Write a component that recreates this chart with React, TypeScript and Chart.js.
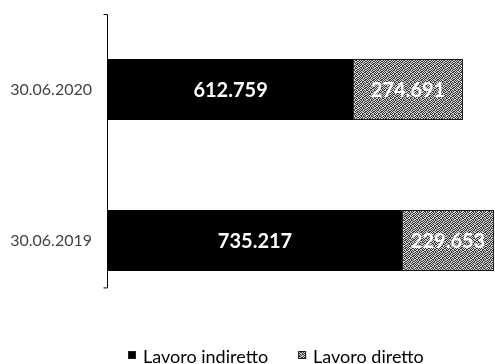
import React, { useEffect, useRef } from "react";
import { Chart, registerables } from "chart.js";

Chart.register(...registerables);

const categories = ["30.06.2020", "30.06.2019"];
const seriesNames = ["Lavoro indiretto", "Lavoro diretto"];
const indirettoValues = [612759, 735217];
const direttoValues = [274691, 229653];

const FONT = "Lato, 'Open Sans', sans-serif";

const fmt = (n: number) => String(n).replace(/\B(?=(\d{3})+(?!\d))/g, ".");

// Speckled grey fill for the "diretto" segment
function makeSpeckle(): CanvasPattern | string {
  const rows = [
    "10110010",
    "01001101",
    "11010100",
    "00101011",
    "10100110",
    "01011001",
    "10010110",
    "01101001",
  ];
  const c = document.createElement("canvas");
  c.width = 8;
  c.height = 8;
  const g = c.getContext("2d");
  if (!g) return "#8a8a8a";
  g.fillStyle = "#3c3c3c";
  g.fillRect(0, 0, 8, 8);
  g.fillStyle = "#d0d0d0";
  rows.forEach((r, y) =>
    r.split("").forEach((b, x) => {
      if (b === "1") g.fillRect(x, y, 1, 1);
    })
  );
  const p = g.createPattern(c, "repeat");
  return p || "#8a8a8a";
}

// Value labels centred inside each bar segment
const valueLabels = {
  id: "valueLabels",
  afterDatasetsDraw(chart: any) {
    const { ctx } = chart;
    ctx.save();
    ctx.font = `bold 20px ${FONT}`;
    ctx.fillStyle = "#ffffff";
    ctx.textAlign = "center";
    ctx.textBaseline = "middle";
    chart.data.datasets.forEach((ds: any, i: number) => {
      const meta = chart.getDatasetMeta(i);
      meta.data.forEach((el: any, j: number) => {
        const { x, base, y } = el.getProps(["x", "base", "y"], true);
        ctx.fillText(fmt(ds.data[j]), (x + base) / 2, y + 1);
      });
    });
    ctx.restore();
  },
};

// Vertical category axis line with end ticks
const AXIS_EXTENT = 0.907;
const axisLine = {
  id: "axisLine",
  afterDraw(chart: any) {
    const { ctx, chartArea } = chart;
    const x = chartArea.left - 0.5;
    const top = chartArea.top;
    const bottom = top + (chartArea.bottom - chartArea.top) * AXIS_EXTENT;
    ctx.save();
    ctx.strokeStyle = "#000";
    ctx.lineWidth = 1;
    ctx.beginPath();
    ctx.moveTo(x - 4, top + 0.5);
    ctx.lineTo(x, top + 0.5);
    ctx.lineTo(x, bottom);
    ctx.lineTo(x - 4, bottom);
    ctx.stroke();
    ctx.restore();
  },
};

// Legend drawn below the plot
const LEGEND_CENTER = 0.558;
const bottomLegend = {
  id: "bottomLegend",
  afterDraw(chart: any) {
    const { ctx } = chart;
    const box = 8;
    const gapBoxText = 7;
    const gapItems = 30;
    ctx.save();
    ctx.font = `18px ${FONT}`;
    ctx.textBaseline = "alphabetic";
    ctx.textAlign = "left";
    const items = chart.data.datasets.map((ds: any) => ({
      label: ds.label,
      fill: ds.backgroundColor,
      w: ctx.measureText(ds.label).width,
    }));
    const total =
      items.reduce((s: number, it: any) => s + box + gapBoxText + it.w, 0) +
      gapItems * (items.length - 1);
    let x = Math.round(chart.width * LEGEND_CENTER - total / 2);
    const baseline = chart.height - 1;
    items.forEach((it: any) => {
      ctx.fillStyle = it.fill;
      ctx.fillRect(x, baseline - 12, box, box);
      ctx.strokeStyle = "#222";
      ctx.lineWidth = 1;
      ctx.strokeRect(x + 0.5, baseline - 12 + 0.5, box - 1, box - 1);
      x += box + gapBoxText;
      ctx.fillStyle = "#000";
      ctx.fillText(it.label, x, baseline);
      x += it.w + gapItems;
    });
    ctx.restore();
  },
};

export default function App() {
  const ref = useRef<HTMLCanvasElement | null>(null);

  useEffect(() => {
    if (!ref.current) return;
    const speckle = makeSpeckle();
    const chart = new Chart(ref.current, {
      type: "bar",
      data: {
        labels: categories,
        datasets: [
          {
            label: seriesNames[0],
            data: indirettoValues,
            backgroundColor: "#000000",
            borderWidth: 0,
            barPercentage: 0.404,
            categoryPercentage: 1,
          },
          {
            label: seriesNames[1],
            data: direttoValues,
            backgroundColor: speckle as any,
            borderColor: "#1a1a1a",
            borderWidth: 1,
            borderSkipped: false,
            barPercentage: 0.404,
            categoryPercentage: 1,
          },
        ],
      },
      options: {
        indexAxis: "y",
        animation: false,
        responsive: false,
        layout: { padding: { top: 14, bottom: 48, left: 0, right: 0 } },
        plugins: {
          legend: { display: false },
          tooltip: { enabled: false },
        },
        scales: {
          x: {
            stacked: true,
            min: 0,
            max: 967500,
            display: false,
          },
          y: {
            stacked: true,
            grid: { display: false, drawTicks: false },
            border: { display: false },
            ticks: {
              padding: 16,
              color: "#444444",
              font: { family: FONT, size: 16 },
            },
            afterFit(scale: any) {
              scale.width = 108;
              scale.paddingTop = 0;
              scale.paddingBottom = 0;
            },
          },
        },
      },
      plugins: [valueLabels, axisLine, bottomLegend],
    });
    return () => chart.destroy();
  }, []);

  return (
    <div style={{ position: "fixed", left: 0, top: 0, width: 495, height: 364, background: "#fff" }}>
      <canvas ref={ref} width={495} height={364} />
    </div>
  );
}
